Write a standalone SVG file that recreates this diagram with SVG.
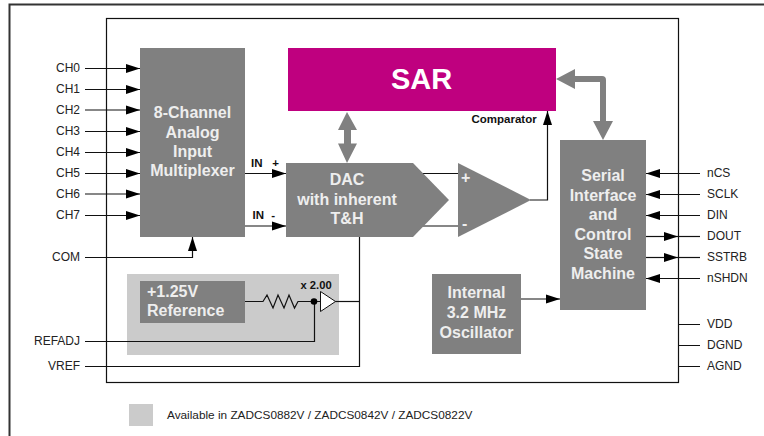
<svg xmlns="http://www.w3.org/2000/svg" width="764" height="436" viewBox="0 0 764 436">
<style>
text{font-family:"Liberation Sans",Arial,sans-serif}
.l{font-size:12px;fill:#222}
.e{text-anchor:end}
.w{font-weight:bold;fill:#eee;font-size:16px;text-anchor:middle}
.f{font-weight:bold;fill:#eee;font-size:16px}
.b{font-weight:bold;font-size:11.5px;fill:#111}
.g{fill:#808080}
.c{fill:none;stroke:#111;stroke-width:1.2}
</style>
<defs>
<marker id="a" markerUnits="userSpaceOnUse" markerWidth="14" markerHeight="12" refX="14" refY="6" orient="auto"><path d="M0 1.500L14 6L0 10.500Z" fill="#000"/></marker>
</defs>
<rect width="764" height="436" fill="#fff"/>
<path d="M9.500 436V4.500H764" fill="none" stroke="#333" stroke-width="2"/>
<rect x="106.500" y="18.500" width="572" height="364" fill="none" stroke="#111" stroke-width="1.2"/>
<g id="shade"><rect x="127" y="274" width="212" height="81" fill="#cbcbcb"/></g>
<g id="legend"><rect x="129" y="404" width="24" height="22" fill="#cbcbcb"/><text x="167" y="419" font-size="11.800" fill="#222">Available in ZADCS0882V / ZADCS0842V / ZADCS0822V</text></g>
<g id="connectors">
<path class="c" marker-end="url(#a)" d="M85 68.500H140"/>
<path class="c" marker-end="url(#a)" d="M85 89.500H140"/>
<path class="c" marker-end="url(#a)" d="M85 110H140"/>
<path class="c" marker-end="url(#a)" d="M85 131.500H140"/>
<path class="c" marker-end="url(#a)" d="M85 152.500H140"/>
<path class="c" marker-end="url(#a)" d="M85 173.500H140"/>
<path class="c" marker-end="url(#a)" d="M85 194H140"/>
<path class="c" marker-end="url(#a)" d="M85 215.500H140"/>
<path class="c" marker-end="url(#a)" d="M85 257.500H192.500V237"/>
<path class="c" marker-end="url(#a)" d="M245 173.500H286"/>
<path class="c" marker-end="url(#a)" d="M245 226H286"/>
<path class="c" d="M85 341.500H314.500V301"/>
<path class="c" d="M85 366.500H359.500V237"/>
<path class="c" d="M335 301.500H359.500"/>
<path class="c" d="M245 301.500H263L267 295L273 308L278 295L284 308L289 295L294.500 308L298 301.500H320"/>
<circle cx="314" cy="301.500" r="3.300" fill="#000"/>
<path class="c" d="M420 173.500H459M420 226H459"/>
<path class="c" marker-end="url(#a)" d="M530 200H547.500V111"/>
<path class="c" marker-end="url(#a)" d="M700 173.500H646"/>
<path class="c" marker-end="url(#a)" d="M700 194.500H646"/>
<path class="c" marker-end="url(#a)" d="M700 215.500H646"/>
<path class="c" marker-end="url(#a)" d="M646 236.500H678"/>
<path class="c" d="M678 236.500H700"/>
<path class="c" marker-end="url(#a)" d="M646 257.500H678"/>
<path class="c" d="M678 257.500H700"/>
<path class="c" marker-end="url(#a)" d="M700 278.500H646"/>
<path class="c" d="M679 324.500H700M679 345.500H700M679 366.500H700"/>
<path class="c" marker-end="url(#a)" d="M521 299H560"/>
<path class="g" d="M347 112L357 130H351V143.500H357L347 163L338 143.500H344V130H338Z"/>
<path class="g" d="M556 79L575 69V76H602Q606 76 606 80V121H613L603 140L593 121H600V82H575V89Z"/>
</g>
<g id="mux"><rect class="g" x="140" y="48" width="105" height="189"/><text class="w"><tspan x="192.500" y="118">8-Channel</tspan><tspan x="192.500" y="137.500">Analog</tspan><tspan x="192.500" y="157">Input</tspan><tspan x="192.500" y="176">Multiplexer</tspan></text></g>
<g id="sar"><rect x="288" y="48" width="268" height="63" fill="#bf007f"/><text x="421.500" y="88.500" font-size="29" font-weight="bold" fill="#fff" text-anchor="middle">SAR</text></g>
<g id="dac"><path class="g" d="M286 163H413L449 200L413 237H286Z"/><text class="w"><tspan x="347" y="185">DAC</tspan><tspan x="347" y="205">with inherent</tspan><tspan x="347" y="224">T&amp;H</tspan></text></g>
<g id="comparator"><path class="g" d="M458 163L531 200L458 237Z"/><text x="461" y="183" class="f">+</text><text x="462" y="229" class="f">-</text></g>
<g id="serial"><rect class="g" x="560" y="140" width="86" height="170"/><text class="w"><tspan x="603" y="181">Serial</tspan><tspan x="603" y="201">Interface</tspan><tspan x="603" y="220">and</tspan><tspan x="603" y="240">Control</tspan><tspan x="603" y="259">State</tspan><tspan x="603" y="278.500">Machine</tspan></text></g>
<g id="osc"><rect class="g" x="432" y="274" width="89" height="80"/><text class="w"><tspan x="476.500" y="298">Internal</tspan><tspan x="476.500" y="318">3.2 MHz</tspan><tspan x="476.500" y="338">Oscillator</tspan></text></g>
<g id="ref"><rect class="g" x="140" y="281" width="105" height="42"/><text x="147" y="297" class="f">+1.25V</text><text x="147" y="316" class="f">Reference</text></g>
<g id="amp"><path d="M320.500 291.500L335.500 301.500L320.500 311.500Z" fill="#fff" stroke="#111"/><text x="300.500" y="288.500" class="b" style="font-size:11.200px">x 2.00</text></g>
<g id="labels">
<text class="l e" x="80" y="72">CH0</text><text class="l e" x="80" y="93">CH1</text><text class="l e" x="80" y="114">CH2</text><text class="l e" x="80" y="135">CH3</text><text class="l e" x="80" y="156">CH4</text><text class="l e" x="80" y="177">CH5</text><text class="l e" x="80" y="198">CH6</text><text class="l e" x="80" y="219">CH7</text>
<text class="l e" x="80" y="261">COM</text><text class="l e" x="80" y="345">REFADJ</text><text class="l e" x="80" y="370">VREF</text>
<text class="l" x="707" y="177">nCS</text><text class="l" x="707" y="198">SCLK</text><text class="l" x="707" y="219">DIN</text><text class="l" x="707" y="240">DOUT</text><text class="l" x="707" y="261">SSTRB</text><text class="l" x="707" y="282">nSHDN</text><text class="l" x="707" y="328">VDD</text><text class="l" x="707" y="349">DGND</text><text class="l" x="707" y="370">AGND</text>
<text class="b" x="251" y="167">IN<tspan x="269"> +</tspan></text><text class="b" x="252.500" y="219">IN<tspan x="268"> -</tspan></text><text class="b" x="471.500" y="122.500">Comparator</text>
</g>
</svg>
